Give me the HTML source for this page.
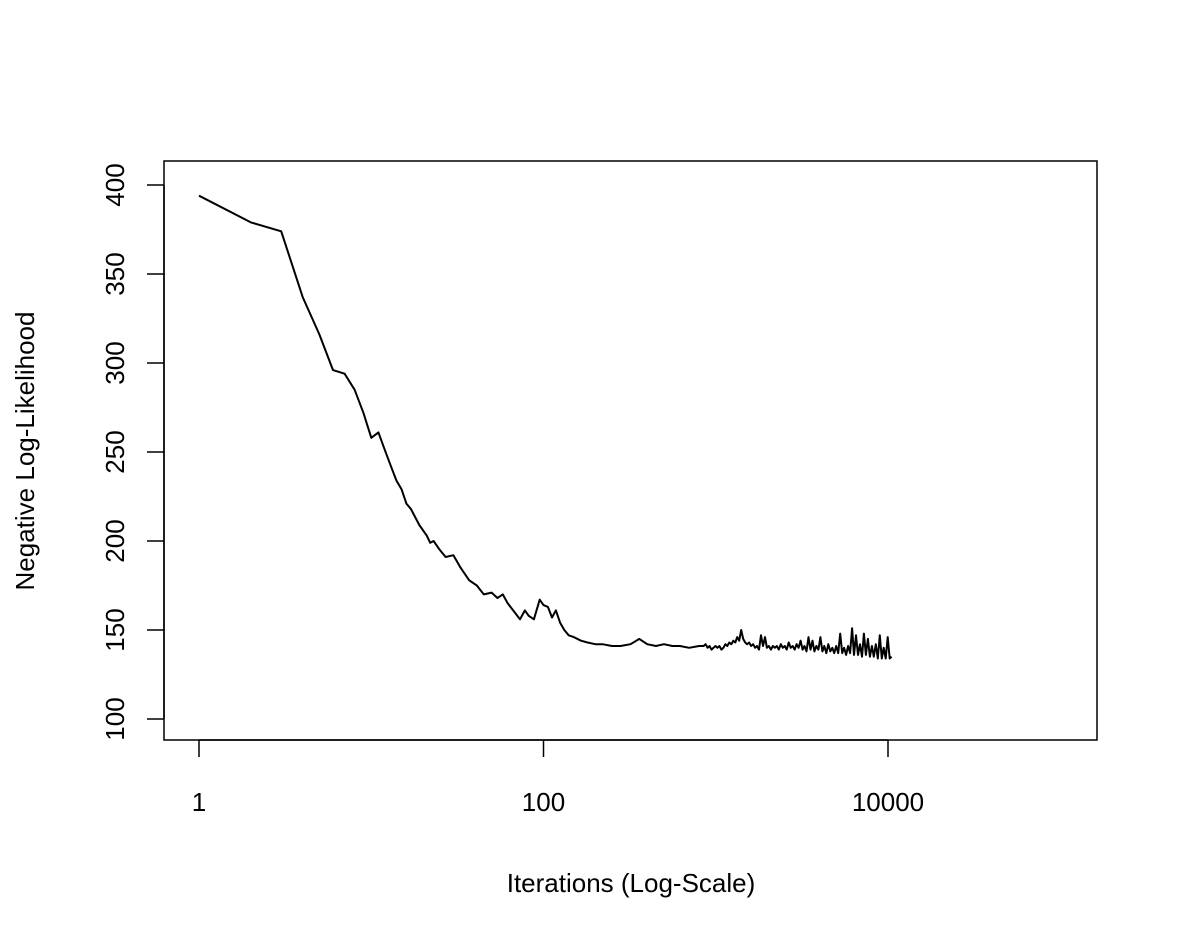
<!DOCTYPE html>
<html><head><meta charset="utf-8"><style>
body{margin:0;background:#fff}
svg{display:block}
text{font-family:"Liberation Sans",Arial,sans-serif;font-size:26px;fill:#000}
</style></head><body>
<svg width="1181" height="944">
<rect x="164" y="161" width="933" height="579" fill="none" stroke="#000" stroke-width="1.5"/>
<g id="xaxis"></g>
<g id="yaxis"></g>
<path id="line" fill="none" stroke="#000" stroke-width="2" stroke-linejoin="round"/>
<text x="631" y="892" text-anchor="middle">Iterations (Log-Scale)</text>
<text transform="translate(34,451) rotate(-90)" text-anchor="middle">Negative Log-Likelihood</text>
</svg>
<script>
const xTicks=[1,100,10000];
const xTickLabels=["1","100","10000"];
const yTicks=[100,150,200,250,300,350,400];
const iterations=[1,2,3,4,5,6,7,8,9,10,11,12,13,14,15,16,17,19,21,22,23,25,27,30,33,37,41,45,50,54,58,62,68,73,78,82,88,95,100,106,112,118,125,132,140,150,165,180,200,220,250,280,320,360,400,450,500,560,620,700,800];
const values=[394,379,374,337,316,296,294,285,272,258,261,251,242,234,229,221,218,209,203,199,200,195,191,192,185,178,175,170,171,168,170,165,160,156,161,158,156,167,164,163,157,161,154,150,147,146,144,143,142,142,141,141,142,145,142,141,142,141,141,140,141];
const tailStart=850, tailEnd=10500;
const tailValues=[141,142,140,141,139,140,141,140,141,139,140,142,141,143,142,144,143,146,144,150,145,143,142,143,141,142,140,141,139,147,141,146,140,141,139,141,140,141,139,142,140,141,139,143,140,141,139,142,140,144,139,141,138,146,139,144,138,141,139,146,138,141,137,142,138,140,137,141,137,148,137,140,136,141,137,151,136,147,136,142,135,148,136,145,135,141,135,142,134,147,134,140,134,146,134,135];
const X=v=>199+172.25*Math.log10(v);
const Y=v=>719-(v-100)*1.78;
const NS="http://www.w3.org/2000/svg";
const xa=document.getElementById('xaxis'), ya=document.getElementById('yaxis');
function el(t,a,p){const e=document.createElementNS(NS,t);for(const k in a)e.setAttribute(k,a[k]);p.appendChild(e);return e;}
el('line',{x1:X(xTicks[0]),x2:X(xTicks[xTicks.length-1]),y1:740,y2:740,stroke:'#000','stroke-width':1.5},xa);
xTicks.forEach((t,i)=>{
 const l=el('line',{x1:X(t),x2:X(t),y1:740,y2:757,stroke:'#000','stroke-width':1.5},xa);
 
 
 const tx=el('text',{x:X(t),y:811,'text-anchor':'middle'},xa);tx.textContent=xTickLabels[i];
 
 
});
el('line',{x1:164,x2:164,y1:Y(yTicks[0]),y2:Y(yTicks[yTicks.length-1]),stroke:'#000','stroke-width':1.5},ya);
yTicks.forEach(t=>{
 const l=el('line',{x1:147,x2:164,y1:Y(t),y2:Y(t),stroke:'#000','stroke-width':1.5},ya);
 
 
 const tx=el('text',{transform:`translate(124,${Y(t)}) rotate(-90)`,'text-anchor':'middle'},ya);tx.textContent=t;
 
 
});
let pts=iterations.map((it,i)=>[X(it),Y(values[i])]);
const n=tailValues.length,l0=Math.log10(tailStart),l1=Math.log10(tailEnd);
tailValues.forEach((v,i)=>pts.push([X(Math.pow(10,l0+(l1-l0)*i/(n-1))),Y(v)]));
document.getElementById('line').setAttribute('d','M'+pts.map(p=>p[0].toFixed(1)+','+p[1].toFixed(1)).join('L'));
</script>
</body></html>
